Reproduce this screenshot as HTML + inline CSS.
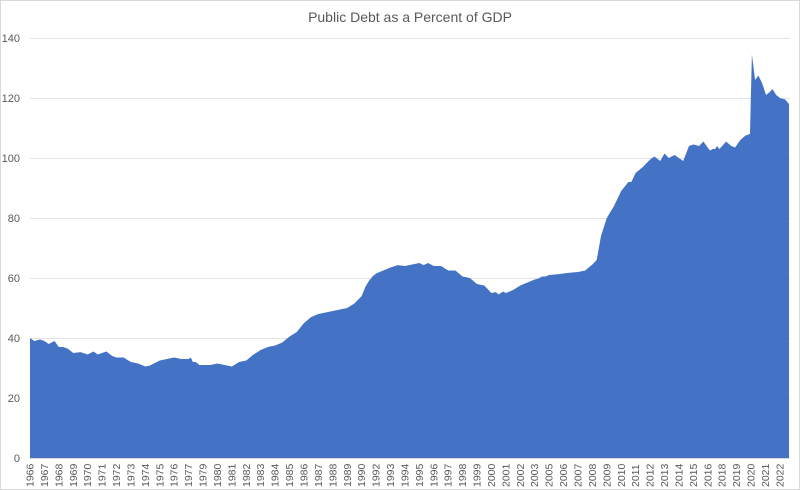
<!DOCTYPE html>
<html><head><meta charset="utf-8"><style>
body{margin:0;background:#fff}
svg{display:block;font-family:"Liberation Sans",sans-serif}
</style></head><body>
<svg width="800" height="490" viewBox="0 0 800 490">
<rect x="0.5" y="0.5" width="799" height="489" fill="#fff" stroke="#d9d9d9"/>
<text x="410" y="22" text-anchor="middle" font-size="14" fill="#595959">Public Debt as a Percent of GDP</text>
<g stroke="#e3e3e3" stroke-width="1">
<line x1="30" x2="790" y1="38.5" y2="38.5"/><line x1="30" x2="790" y1="98.5" y2="98.5"/>
<line x1="30" x2="790" y1="158.5" y2="158.5"/><line x1="30" x2="790" y1="218.5" y2="218.5"/>
<line x1="30" x2="790" y1="278.5" y2="278.5"/><line x1="30" x2="790" y1="338.5" y2="338.5"/>
<line x1="30" x2="790" y1="398.5" y2="398.5"/>
</g>
<g font-size="11" fill="#595959" text-anchor="end">
<text x="20" y="42">140</text><text x="20" y="102">120</text><text x="20" y="162">100</text>
<text x="20" y="222">80</text><text x="20" y="282">60</text><text x="20" y="342">40</text>
<text x="20" y="402">20</text><text x="20" y="462">0</text>
</g>
<polygon fill="#4472c4" points="30,458 30,338 34.3,341 40.1,339.5 44.4,341 48.7,344 54.5,341 58.8,347 63.1,347 67.5,348.5 73.3,353 80.5,352.1 87.7,354.5 93.4,351.5 97.8,354.5 102.1,353 106.4,351.5 112.2,356 116.5,357.5 123.7,357.5 130.9,362 138.2,363.5 145.4,366.5 149.7,365.6 159.8,360.5 167,359 174.2,357.5 181.4,359 188.6,359 190.8,357.5 192.9,362 195.8,362 199.4,365 203,365 210.3,365 217.5,363.5 224.7,365 231.9,366.5 239.1,362 246.3,360.5 253.5,354.5 260.7,350 267.9,347 275.1,345.5 282.3,342.5 289.6,336.5 296.8,332 304,323 311.2,317 318.4,314 325.6,312.5 332.8,311 340,309.5 347.2,308 354.4,303.5 361.7,296 365.3,287 368.9,281 372.5,276.5 376.1,273.5 383.3,270.5 390.5,267.5 397.7,265.1 404.9,266 412.1,264.5 419.3,263 423.7,265.1 428,263 433.8,266 441,266 448.2,270.5 455.4,270.5 462.6,276.5 469.8,278 477,284 484.3,285.5 491.4,293 495.8,292.1 498.7,294.5 503,291.5 505.9,293 513.1,290 520.3,285.5 527.5,282.5 534.7,279.5 538.3,278.6 541.9,276.5 545.5,276.5 549.1,275 556.3,274.4 563.5,273.5 570.8,272.6 578,272 585.2,270.5 592.4,264.5 596.7,260 601,236 606.8,218 614,206 621.2,191 628.4,182 631.3,182 635.6,173 642.8,167 650.1,159.5 654.4,156.5 660.2,161 664.5,153.5 668.8,158 674.6,155 678.9,158 683.2,161 689,146 693.3,144.5 699.1,146 703.4,141.5 707.7,147.5 709.9,150.5 712.8,149 715,149 717.1,146 719.3,149 722.2,146 726.1,141.5 731.3,146 735.1,147.5 740.3,140 745.5,135.5 750,134 751.9,54.5 755.1,80 758.3,75.5 762.1,83 766,95 769.8,92 772.4,89 776.2,95 780,98 785.2,99.5 789,104 789,458"/>
<line x1="30" x2="790" y1="458.5" y2="458.5" stroke="#d9d9d9"/>
<g font-size="10.5" fill="#595959">
<text transform="translate(33.5,487) rotate(-90)">1966</text>
<text transform="translate(47.9,487) rotate(-90)">1967</text>
<text transform="translate(62.3,487) rotate(-90)">1968</text>
<text transform="translate(76.8,487) rotate(-90)">1969</text>
<text transform="translate(91.2,487) rotate(-90)">1970</text>
<text transform="translate(105.6,487) rotate(-90)">1971</text>
<text transform="translate(120.0,487) rotate(-90)">1972</text>
<text transform="translate(134.4,487) rotate(-90)">1973</text>
<text transform="translate(148.9,487) rotate(-90)">1974</text>
<text transform="translate(163.3,487) rotate(-90)">1975</text>
<text transform="translate(177.7,487) rotate(-90)">1976</text>
<text transform="translate(192.1,487) rotate(-90)">1977</text>
<text transform="translate(206.5,487) rotate(-90)">1979</text>
<text transform="translate(221.0,487) rotate(-90)">1980</text>
<text transform="translate(235.4,487) rotate(-90)">1981</text>
<text transform="translate(249.8,487) rotate(-90)">1982</text>
<text transform="translate(264.2,487) rotate(-90)">1983</text>
<text transform="translate(278.7,487) rotate(-90)">1984</text>
<text transform="translate(293.1,487) rotate(-90)">1985</text>
<text transform="translate(307.5,487) rotate(-90)">1986</text>
<text transform="translate(321.9,487) rotate(-90)">1987</text>
<text transform="translate(336.3,487) rotate(-90)">1988</text>
<text transform="translate(350.8,487) rotate(-90)">1989</text>
<text transform="translate(365.2,487) rotate(-90)">1990</text>
<text transform="translate(379.6,487) rotate(-90)">1992</text>
<text transform="translate(394.0,487) rotate(-90)">1993</text>
<text transform="translate(408.4,487) rotate(-90)">1994</text>
<text transform="translate(422.9,487) rotate(-90)">1995</text>
<text transform="translate(437.3,487) rotate(-90)">1996</text>
<text transform="translate(451.7,487) rotate(-90)">1997</text>
<text transform="translate(466.1,487) rotate(-90)">1998</text>
<text transform="translate(480.6,487) rotate(-90)">1999</text>
<text transform="translate(495.0,487) rotate(-90)">2000</text>
<text transform="translate(509.4,487) rotate(-90)">2001</text>
<text transform="translate(523.8,487) rotate(-90)">2002</text>
<text transform="translate(538.2,487) rotate(-90)">2003</text>
<text transform="translate(552.7,487) rotate(-90)">2005</text>
<text transform="translate(567.1,487) rotate(-90)">2006</text>
<text transform="translate(581.5,487) rotate(-90)">2007</text>
<text transform="translate(595.9,487) rotate(-90)">2008</text>
<text transform="translate(610.3,487) rotate(-90)">2009</text>
<text transform="translate(624.8,487) rotate(-90)">2010</text>
<text transform="translate(639.2,487) rotate(-90)">2011</text>
<text transform="translate(653.6,487) rotate(-90)">2012</text>
<text transform="translate(668.0,487) rotate(-90)">2013</text>
<text transform="translate(682.5,487) rotate(-90)">2014</text>
<text transform="translate(696.9,487) rotate(-90)">2015</text>
<text transform="translate(711.3,487) rotate(-90)">2016</text>
<text transform="translate(725.7,487) rotate(-90)">2018</text>
<text transform="translate(740.1,487) rotate(-90)">2019</text>
<text transform="translate(754.6,487) rotate(-90)">2020</text>
<text transform="translate(769.0,487) rotate(-90)">2021</text>
<text transform="translate(783.4,487) rotate(-90)">2022</text>
</g>
</svg>
</body></html>
